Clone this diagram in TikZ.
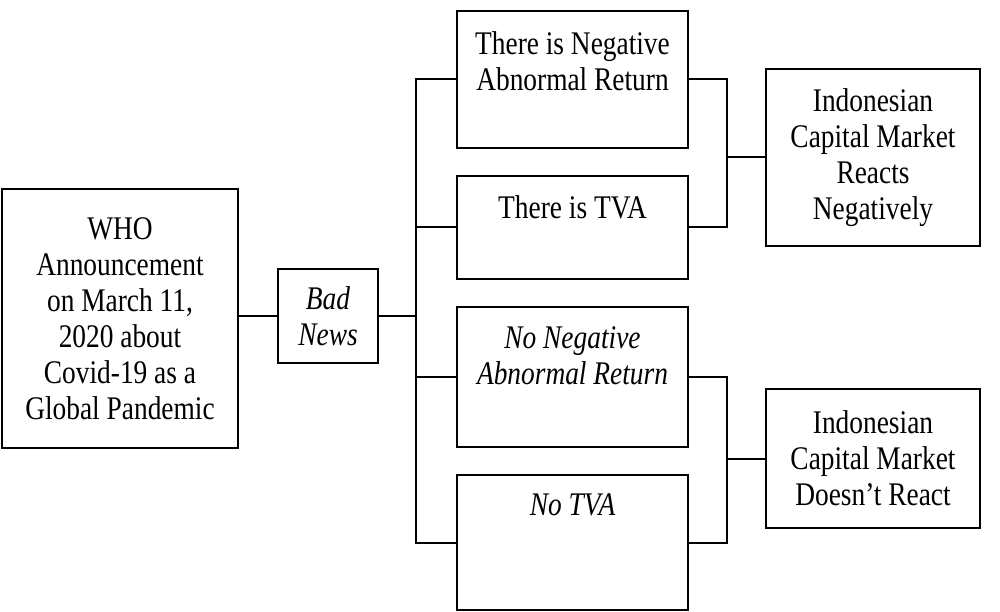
\documentclass[tikz,border=0pt]{standalone}
\usepackage{fontspec}
\setmainfont{Liberation Serif}[FakeStretch=0.83]
\usetikzlibrary{positioning}

\begin{document}
\begin{tikzpicture}[x=1pt, y=-1pt,
  box/.style={draw, line width=2pt, inner sep=0pt, align=center},
  txt/.style={inner sep=0pt, align=center},
  ital/.style={font=\fontsize{33}{36}\selectfont\itshape},
  ln/.style={line width=2pt},
  font=\fontsize{33}{36}\selectfont
]
\useasboundingbox (0,0) rectangle (1000,612);
% announcement and news
\node[box, minimum width=236pt, minimum height=259pt] (who) at (120,318.5) {WHO\\Announcement\\on March 11,\\2020 about\\Covid-19 as a\\Global Pandemic};
\node[box, ital, minimum width=100pt, minimum height=94pt] (bad) at (328,316) {Bad\\News};
\coordinate (spine) at (416,316);

% indicators
\node[box, minimum width=231pt, minimum height=137pt] (negar) at (572.5,79.5) {};
\node[txt, below=21pt of negar.north] (negart) {There is Negative\\Abnormal Return};
\node[box, minimum width=231pt, minimum height=103pt] (tva) at (572.5,227.5) {};
\node[txt, below=20pt of tva.north] (tvat) {There is TVA};
\node[box, minimum width=231pt, minimum height=140pt] (nonar) at (572.5,377) {};
\node[txt, ital, below=20pt of nonar.north] (nonart) {No Negative\\Abnormal Return};
\node[box, minimum width=231pt, minimum height=135pt] (notva) at (572.5,542.5) {};
\node[txt, ital, below=20pt of notva.north] (notvat) {No TVA};

% outcomes
\node[box, minimum width=214pt, minimum height=177pt] (react) at (873,157.5) {Indonesian\\Capital Market\\Reacts\\Negatively};
\node[box, minimum width=214pt, minimum height=139pt] (noreact) at (873,458.5) {Indonesian\\Capital Market\\Doesn’t React};
\coordinate (jn) at (727,0);

% connectors
\draw[ln] (bad.west) -- (bad.west -| who.east);
\draw[ln] (bad.east) -- (spine);
\draw[ln] (negar.west) -- (negar.west -| spine) -- (notva.west -| spine) -- (notva.west);
\draw[ln] (tva.west) -- (tva.west -| spine);
\draw[ln] (nonar.west) -- (nonar.west -| spine);
\draw[ln] (negar.east) -- (negar.east -| jn) -- (tva.east -| jn) -- (tva.east);
\draw[ln] (react.west) -- (react.west -| jn);
\draw[ln] (nonar.east) -- (nonar.east -| jn) -- (notva.east -| jn) -- (notva.east);
\draw[ln] (noreact.west) -- (noreact.west -| jn);
\end{tikzpicture}
\end{document}
